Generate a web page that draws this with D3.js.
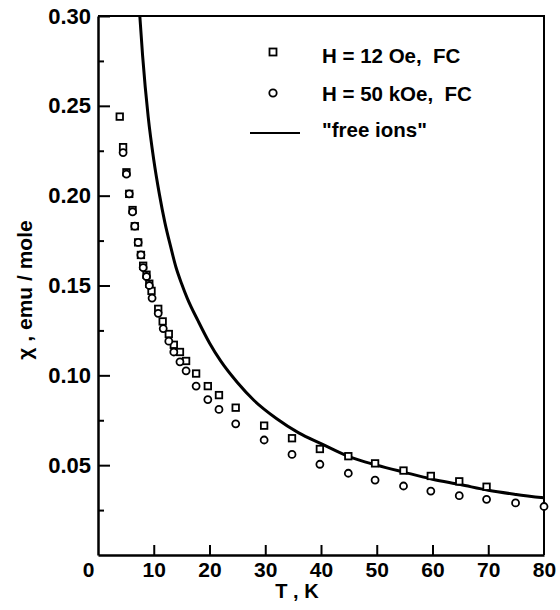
<!DOCTYPE html>
<html>
<head>
<meta charset="utf-8">
<script src="https://cdn.jsdelivr.net/npm/d3@7"></script>
<style>
  body { margin: 0; background: #fff; }
  text { font-family: "Liberation Sans", Arial, sans-serif; font-weight: bold; fill: #000; }
</style>
</head>
<body>
<div id="chart"></div>
<script>
// H = 12 Oe, FC (squares)
const lowFieldT   = [3.9, 4.5, 5.1, 5.6, 6.2, 6.6, 7.2, 7.7, 8.1, 8.7, 9.2, 9.6, 10.8, 11.6, 12.7, 13.6, 14.7, 15.8, 17.6, 19.7, 21.7, 24.7, 29.8, 34.8, 39.8, 44.9, 49.7, 54.8, 59.7, 64.8, 69.7]
const lowFieldChi = [0.244, 0.227, 0.213, 0.201, 0.192, 0.183, 0.174, 0.167, 0.161, 0.156, 0.151, 0.147, 0.137, 0.130, 0.123, 0.117, 0.113, 0.108, 0.101, 0.094, 0.089, 0.082, 0.072, 0.065, 0.059, 0.055, 0.051, 0.047, 0.044, 0.041, 0.038]

// H = 50 kOe, FC (circles)
const highFieldT   = [4.5, 5.1, 5.6, 6.2, 6.6, 7.2, 7.7, 8.1, 8.7, 9.2, 9.7, 10.8, 11.7, 12.7, 13.6, 14.7, 15.8, 17.6, 19.7, 21.7, 24.7, 29.8, 34.8, 39.8, 44.9, 49.7, 54.8, 59.7, 64.8, 69.7, 74.9, 80]
const highFieldChi = [0.224, 0.212, 0.201, 0.191, 0.183, 0.174, 0.167, 0.160, 0.155, 0.150, 0.143, 0.1345, 0.126, 0.119, 0.113, 0.1075, 0.1025, 0.094, 0.0865, 0.081, 0.073, 0.064, 0.056, 0.0505, 0.0455, 0.0417, 0.0384, 0.0356, 0.033, 0.031, 0.029, 0.027]

// "free ions" curve
const freeT   = [7.5, 8, 9, 10, 11, 12, 13, 14, 15, 16, 18, 20, 22, 25, 28, 32, 36, 40, 45, 50, 55, 60, 65, 70, 75, 80]
const freeChi = [0.300, 0.278, 0.244, 0.220, 0.201, 0.185, 0.172, 0.160, 0.151, 0.143, 0.130, 0.118, 0.108, 0.096, 0.086, 0.076, 0.068, 0.062, 0.0548, 0.050, 0.046, 0.0422, 0.0392, 0.036, 0.0337, 0.0318]

const xTicks = [0, 10, 20, 30, 40, 50, 60, 70, 80]
const yTicks = [0.05, 0.10, 0.15, 0.20, 0.25, 0.30]
const yMinorTicks = [0.025, 0.075, 0.125, 0.175, 0.225, 0.275]

const legendLabels = ["H = 12 Oe,  FC", "H = 50 kOe,  FC", "\"free ions\""]

drawChart("#chart")

function drawChart(id){
    const canvas = createCanvas()
    const svg = addSvg(id, canvas)
    const sc = addScales(canvas)

    addAxes(svg, sc, canvas)
    addCurve(svg, sc, canvas)
    addPoints(svg, sc)
    addLegend(svg)
    addTitles(svg)
}

function createCanvas(){
    return {
        width: 560, height: 610, margin: {top: 16, bottom: 55, right: 16, left: 98}
    }
}

function addSvg(id, canvas){
    return d3.select(id).append("svg")
      .attr("width", canvas.width).attr("height", canvas.height)
}

function addScales(canvas){
    const xScale = d3.scaleLinear().domain([0, 80])
      .range([canvas.margin.left, canvas.width - canvas.margin.right])
    const yScale = d3.scaleLinear().domain([0, 0.30])
      .range([canvas.height - canvas.margin.bottom, canvas.margin.top])
    return {xScale, yScale}
}

function addAxes(svg, scales, canvas){
    const {xScale, yScale} = scales
    const bottom = canvas.height - canvas.margin.bottom
    const left = canvas.margin.left

    // frame (top and right)
    svg.append("path")
      .attr("d", `M${left},${yScale(0.30)}H${xScale(80)}V${bottom}`)
      .attr("fill", "none").attr("stroke", "#000").attr("stroke-width", 2)

    const xAxis = svg.append("g").attr("transform", `translate(0,${bottom})`)
      .call(d3.axisBottom(xScale).tickValues(xTicks).tickFormat(d3.format("d"))
        .tickSizeInner(-10).tickSizeOuter(0).tickPadding(7))
    xAxis.select(".domain").attr("stroke-width", 2.5)
    xAxis.selectAll(".tick line").attr("stroke-width", 2)
      .filter(d => d === 0 || d === 80).remove()
    xAxis.selectAll(".tick text").attr("font-size", 21).attr("font-family", null)
      .filter(d => d === 0).attr("dx", -10)

    const yAxis = svg.append("g").attr("transform", `translate(${left},0)`)
      .call(d3.axisLeft(yScale).tickValues(yTicks).tickFormat(d3.format(".2f"))
        .tickSizeInner(-12).tickSizeOuter(0).tickPadding(7))
    yAxis.select(".domain").attr("stroke-width", 2.5)
    yAxis.selectAll(".tick line").attr("stroke-width", 2)
    yAxis.selectAll(".tick text").attr("font-size", 22).attr("font-family", null)

    const yMinor = svg.append("g").attr("transform", `translate(${left},0)`)
      .call(d3.axisLeft(yScale).tickValues(yMinorTicks).tickFormat("")
        .tickSizeInner(-6).tickSizeOuter(0))
    yMinor.select(".domain").remove()
    yMinor.selectAll(".tick line").attr("stroke-width", 2)
}

function addCurve(svg, scales, canvas){
    const {xScale, yScale} = scales
    svg.append("clipPath").attr("id", "plot-clip")
      .append("rect")
      .attr("x", xScale(0)).attr("y", yScale(0.30))
      .attr("width", xScale(80) - xScale(0)).attr("height", yScale(0) - yScale(0.30))

    const line = d3.line()
      .x((d, i) => xScale(freeT[i]))
      .y(d => yScale(d))
      .curve(d3.curveMonotoneX)

    svg.append("path").datum(freeChi)
      .attr("clip-path", "url(#plot-clip)")
      .attr("d", line)
      .attr("fill", "none").attr("stroke", "#000").attr("stroke-width", 3)
}

function addPoints(svg, scales){
    const {xScale, yScale} = scales
    const size = 6.5

    svg.append("g").selectAll("rect").data(lowFieldChi).join("rect")
      .attr("x", (d, i) => xScale(lowFieldT[i]) - size / 2)
      .attr("y", d => yScale(d) - size / 2)
      .attr("width", size).attr("height", size)
      .attr("fill", "#fff").attr("stroke", "#000").attr("stroke-width", 1.8)

    svg.append("g").selectAll("circle").data(highFieldChi).join("circle")
      .attr("cx", (d, i) => xScale(highFieldT[i]))
      .attr("cy", d => yScale(d))
      .attr("r", 3.5)
      .attr("fill", "#fff").attr("stroke", "#000").attr("stroke-width", 1.8)
}

function addLegend(svg){
    const g = svg.append("g")
    const size = 7

    g.append("rect").attr("x", 273 - size / 2).attr("y", 52 - size / 2)
      .attr("width", size).attr("height", size)
      .attr("fill", "#fff").attr("stroke", "#000").attr("stroke-width", 1.8)
    g.append("circle").attr("cx", 273).attr("cy", 93).attr("r", 3.7)
      .attr("fill", "#fff").attr("stroke", "#000").attr("stroke-width", 1.8)
    g.append("line").attr("x1", 250).attr("x2", 300).attr("y1", 133).attr("y2", 133)
      .attr("stroke", "#000").attr("stroke-width", 2)

    g.selectAll("text").data(legendLabels).join("text")
      .attr("x", 322).attr("y", (d, i) => [62.5, 101, 137][i])
      .attr("font-size", 20.5)
      .attr("xml:space", "preserve")
      .text(d => d)
}

function addTitles(svg){
    svg.append("text").attr("x", 297).attr("y", 598)
      .attr("text-anchor", "middle").attr("font-size", 20)
      .attr("xml:space", "preserve")
      .text("T , K")

    svg.append("text")
      .attr("transform", "translate(32,290) rotate(-90)")
      .attr("text-anchor", "middle").attr("font-size", 21)
      .attr("xml:space", "preserve")
      .text("χ , emu / mole")
}
</script>
</body>
</html>
